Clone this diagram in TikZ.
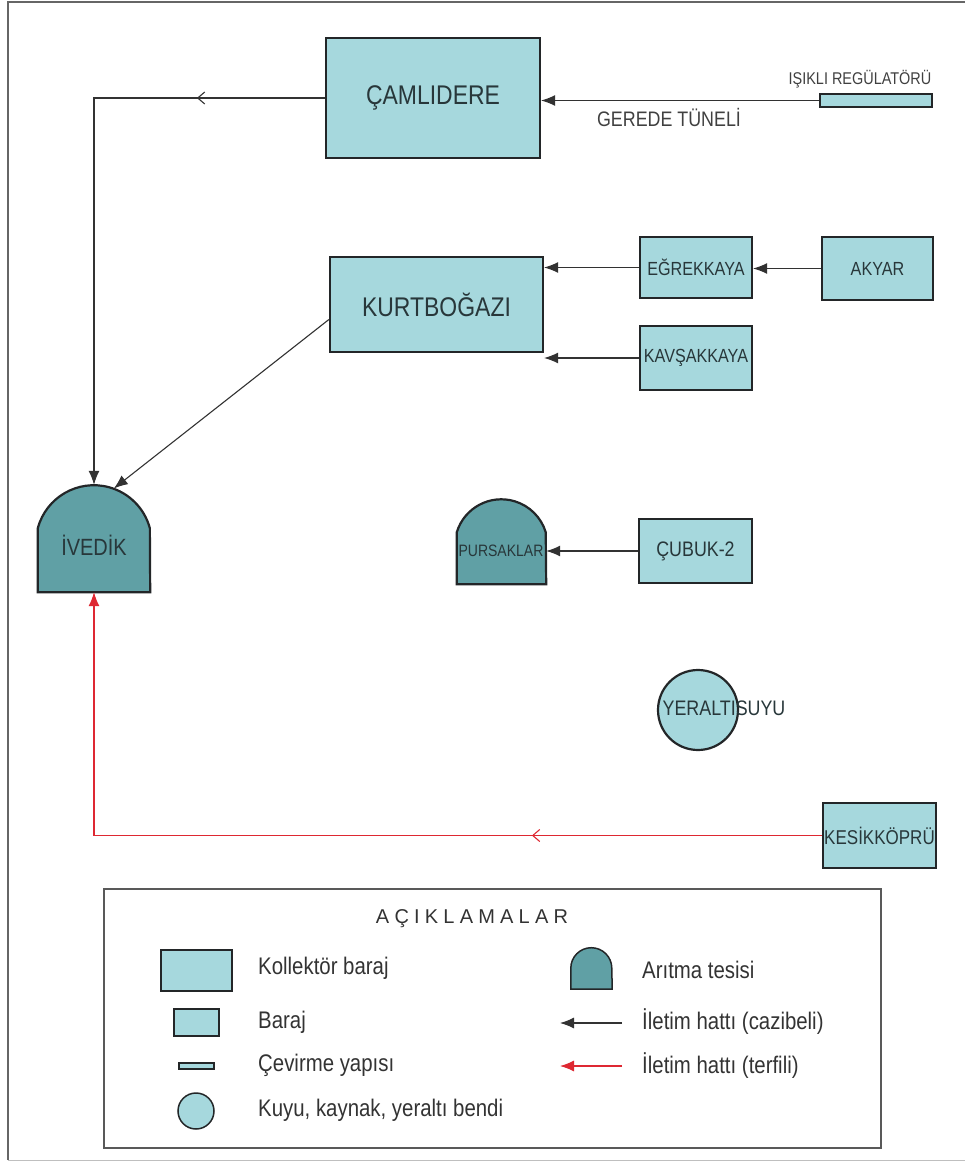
\documentclass[tikz,border=0pt]{standalone}
\usepackage{fontspec}
\setmainfont[FakeStretch=0.85]{Liberation Sans}
\newfontfamily\spacedfont[LetterSpace=26]{Liberation Sans}
\usetikzlibrary{arrows.meta,decorations.markings}

\definecolor{barajfill}{RGB}{166,216,221}
\definecolor{aritmafill}{RGB}{96,160,165}
\definecolor{kontur}{RGB}{35,38,40}
\definecolor{hat}{RGB}{50,50,50}
\definecolor{terfi}{RGB}{222,40,50}
\definecolor{yazi}{RGB}{40,55,58}

\newcommand{\px}[1]{\fontsize{#1}{#1}\selectfont}

\tikzset{
  baraj/.style={draw=kontur, line width=2.2pt, fill=barajfill, inner sep=0pt, text=yazi},
  aritma/.style={draw=kontur, line width=2.2pt, fill=aritmafill},
  cazibe/.style={draw=hat, line width=1.1pt, -{Latex[length=14pt,width=11pt]}},
  terfi hat/.style={draw=terfi, line width=1.1pt, -{Latex[length=14pt,width=11pt]}},
  ara ok/.style={postaction={decorate}, decoration={markings,
      mark=at position #1 with {\arrow{Straight Barb[length=7pt,width=12pt]}}}},
  lejant/.style={font=\px{24}, text=black!80, inner sep=0pt, anchor=west},
}

\begin{document}
\begin{tikzpicture}[x=1pt,y=-1pt]
\useasboundingbox (0,0) rectangle (964,1162);
% frame
\draw[line width=2.2pt, draw=black!60] (8,1160) -- (8,2) -- (966,2);
\draw[line width=0.8pt, draw=black!25] (8,1160) -- (966,1160);

% dams
\node[baraj, minimum width=214, minimum height=120, font=\px{27}] (camlidere) at (433,98) {ÇAMLIDERE};
\node[baraj, minimum width=112, minimum height=13] (isikli) at (876,100.5) {};
\node[font=\px{17}, text=black!75, inner sep=0pt] (isikliyazi) at (860,79) {IŞIKLI REGÜLATÖRÜ};
\node[font=\px{21}, text=black!75, inner sep=0pt] (gerede) at (669,117) {GEREDE TÜNELİ};

\node[baraj, minimum width=213, minimum height=95, font=\px{27}] (kurtbogazi) at (436.5,304.5) {KURTBOĞAZI};
\node[baraj, minimum width=112, minimum height=61, font=\px{19}] (egrekkaya) at (696,267.5) {EĞREKKAYA};
\node[baraj, minimum width=111, minimum height=63, font=\px{19}] (akyar) at (877.5,268.5) {AKYAR};
\node[baraj, minimum width=112, minimum height=64, font=\px{19}] (kavsakkaya) at (696,358) {KAVŞAKKAYA};

% treatment plants
\node[inner sep=0pt, minimum width=112, minimum height=107] (ivedik) at (94,538.5) {};
\draw[aritma] (ivedik.south west) -- ++(0,-64)
  arc[start angle=195, end angle=345, radius=58] -- (ivedik.south east) -- cycle;
\node[font=\px{23.5}, text=yazi] (ivedikyazi) at (94,545) {İVEDİK};
\coordinate (ivedik arc) at (113.8,488.5);

\node[inner sep=0pt, minimum width=89, minimum height=85] (pursaklar) at (501.5,541.5) {};
\draw[aritma] (pursaklar.south west) -- ++(0,-52)
  arc[start angle=197, end angle=343, radius=46.5] -- (pursaklar.south east) -- cycle;
\node[font=\px{16.5}, text=yazi] (pursaklaryazi) at (501,551) {PURSAKLAR};

\node[baraj, minimum width=113, minimum height=64, font=\px{21}] (cubuk) at (695.5,551) {ÇUBUK-2};
\node[baraj, circle, minimum size=80] (yeraltisuyu) at (698,710) {};
\node[font=\px{21}, text=yazi] (yeraltiyazi) at (724,708) {YERALTISUYU};
\node[baraj, minimum width=113, minimum height=65, font=\px{20}] (kesikkopru) at (879.5,835.5) {KESİKKÖPRÜ};

% lines
\draw[cazibe] (isikli.west) -- (isikli.west -| camlidere.east);
\draw[cazibe, ara ok=128pt] (camlidere.west) -| (ivedik.north);
\draw[cazibe] ([yshift=-15pt]kurtbogazi.west) -- (ivedik arc);
\draw[cazibe] (egrekkaya.west) -- (egrekkaya.west -| kurtbogazi.east);
\draw[cazibe] (kavsakkaya.west) -- (kavsakkaya.west -| kurtbogazi.east);
\draw[cazibe] (akyar.west) -- (akyar.west -| egrekkaya.east);
\draw[cazibe] (cubuk.west) -- (cubuk.west -| pursaklar.east);
\draw[terfi hat, ara ok=290pt] (kesikkopru.west) -| (ivedik.south);

% legend
\draw[draw=black!65, line width=1.2pt] (104,889) rectangle (881,1148);
\node[font=\spacedfont\px{20}, text=black!80] (aciklamalar) at (472,919) {AÇIKLAMALAR};

\node[baraj, line width=1.5pt, minimum width=71, minimum height=41] (lkollektor) at (196.5,970.5) {};
\node[baraj, line width=1.5pt, minimum width=45, minimum height=27] (lbaraj) at (196.5,1022.5) {};
\node[baraj, line width=1.5pt, minimum width=35, minimum height=6] (lcevirme) at (196.5,1066) {};
\node[baraj, line width=1.5pt, circle, minimum size=36] (lkuyu) at (196,1111) {};
\node[lejant] at (258,968) {Kollektör baraj};
\node[lejant] at (258,1022) {Baraj};
\node[lejant] at (258,1065) {Çevirme yapısı};
\node[lejant] at (258,1110) {Kuyu, kaynak, yeraltı bendi};

\node[inner sep=0pt, minimum width=41, minimum height=40] (laritma) at (591.5,969) {};
\draw[aritma, line width=1.5pt] (laritma.south west) -- ++(0,-21)
  arc[start angle=180, end angle=360, radius=20.5] -- (laritma.south east) -- cycle;
\coordinate (lcazibe bas) at (622,1023);
\coordinate (lcazibe son) at (560,1023);
\coordinate (lterfi bas) at (622,1066);
\coordinate (lterfi son) at (560,1066);
\draw[cazibe] (lcazibe bas) -- (lcazibe son);
\draw[terfi hat] (lterfi bas) -- (lterfi son);
\node[lejant] at (642,970) {Arıtma tesisi};
\node[lejant] at (642,1022) {İletim hattı (cazibeli)};
\node[lejant] at (642,1066) {İletim hattı (terfili)};
\end{tikzpicture}
\end{document}
